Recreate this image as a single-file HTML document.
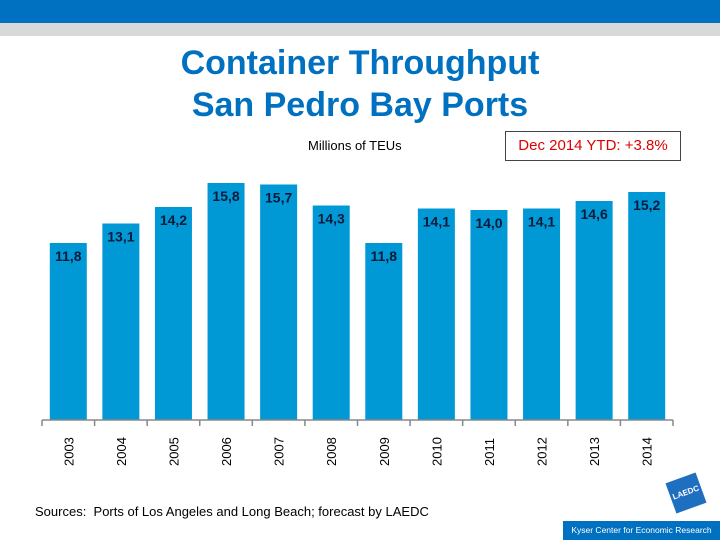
<!DOCTYPE html>
<html><head><meta charset="utf-8"><style>
body{margin:0;width:720px;height:540px;overflow:hidden;background:#fff;font-family:"Liberation Sans",sans-serif;position:relative}
.abs{position:absolute}
</style></head><body>
<div class="abs" style="left:0;top:0;width:720px;height:23px;background:#0070C0"></div>
<div class="abs" style="left:0;top:23px;width:720px;height:13px;background:#D9D9D9"></div>
<div class="abs" style="left:0;top:42px;width:720px;text-align:center;color:#0070C0;font-weight:bold;font-size:34px;line-height:42px">Container Throughput<br>San Pedro Bay Ports</div>
<div class="abs" style="left:308px;top:138px;font-size:13px;color:#000">Millions of TEUs</div>
<div class="abs" style="left:505px;top:131px;width:176px;height:30px;border:1px solid #444;box-sizing:border-box;color:#E00000;font-size:15px;text-align:center;line-height:28px">Dec 2014 YTD: +3.8%</div>
<svg class="abs" style="left:0;top:0" width="720" height="540" id="chart"></svg>
<div class="abs" style="left:35px;top:504px;font-size:13px;color:#000">Sources:&nbsp; Ports of Los Angeles and Long Beach; forecast by LAEDC</div>
<div class="abs" style="left:670px;top:477px;width:32px;height:32px;background:#1F6FC0;transform:rotate(-20deg);color:#fff;font-size:8px;font-weight:bold;text-align:center;line-height:32px">LAEDC</div>
<div class="abs" style="left:563px;top:521px;width:157px;height:19px;background:#0070C0;color:#fff;font-size:8.5px;text-align:center;line-height:19px">Kyser Center for Economic Research</div>
<script>
const categories=["2003","2004","2005","2006","2007","2008","2009","2010","2011","2012","2013","2014"];
const values=[11.8,13.1,14.2,15.8,15.7,14.3,11.8,14.1,14.0,14.1,14.6,15.2];
const valueLabels=["11,8","13,1","14,2","15,8","15,7","14,3","11,8","14,1","14,0","14,1","14,6","15,2"];
const svg=document.getElementById('chart');const NS="http://www.w3.org/2000/svg";
const x0=42,x1=673,base=420,pxPerUnit=15;
const step=(x1-x0)/categories.length;
const xs=i=>x0+step*i;const y=v=>base-v*pxPerUnit;
function mk(t,a){const e=document.createElementNS(NS,t);for(const k in a)e.setAttribute(k,a[k]);svg.appendChild(e);return e;}
categories.forEach((c,i)=>{
 const bw=37,bx=xs(i)+(step-bw)/2;
 const r=mk('rect',{x:bx,y:y(values[i]),width:bw,height:base-y(values[i]),fill:'#0099D6'});
 
 
 const t=mk('text',{x:bx+bw/2,y:y(values[i])+18,'text-anchor':'middle','font-size':'14','font-weight':'bold',fill:'#0A1A3A','font-family':'Liberation Sans, sans-serif'});
 t.textContent=valueLabels[i];
 
 
 const lx=xs(i)+step/2+5;
 const yl=mk('text',{x:lx,y:466,transform:`rotate(-90 ${lx} 466)`,'font-size':'13',fill:'#000','font-family':'Liberation Sans, sans-serif'});
 yl.textContent=c;
 
 
});
const ax=mk('line',{x1:x0,y1:base,x2:x1,y2:base,stroke:'#888','stroke-width':1.5});


for(let i=0;i<=categories.length;i++){
 const tk=mk('line',{x1:xs(i),y1:base,x2:xs(i),y2:base+6,stroke:'#888','stroke-width':1.5});
 
 
}
</script>
</body></html>
